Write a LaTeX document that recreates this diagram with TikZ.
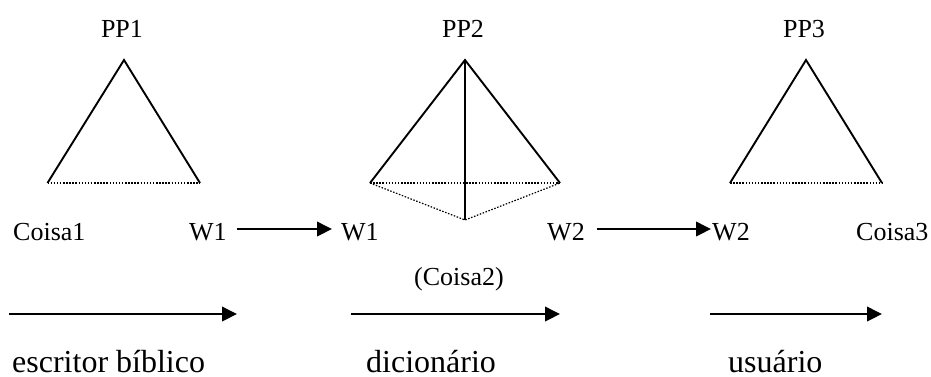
\documentclass[tikz,border=0pt]{standalone}
\usepackage{fontspec}
\setmainfont{Liberation Serif}
\usetikzlibrary{arrows.meta}
\tikzset{
 lab/.style={inner sep=0pt,font=\fontsize{26pt}{29pt}\selectfont},
 biglab/.style={inner sep=0pt,font=\fontsize{32pt}{36pt}\selectfont},
 edge/.style={line width=1.9pt,draw=black},
 dot/.style={line width=1.2pt,draw=black,dash pattern=on 1.5pt off 1.6pt},
 arr/.style={line width=2pt,-{Triangle[length=15pt,width=14.5pt]}}
}
\begin{document}
\begin{tikzpicture}[x=1pt,y=-1pt]
\useasboundingbox (0,0) rectangle (931,376);
\coordinate (a1) at (124,60);
\coordinate (a2) at (47.5,183);
\coordinate (a3) at (200,183);
\draw[edge] (a2)--(a1)--(a3);
\draw[dot] (a2)--(a3);
\coordinate (b1) at (465,60);
\coordinate (b2) at (370,183);
\coordinate (b3) at (560,183);
\coordinate (b4) at (465,220);
\draw[edge] (b2)--(b1)--(b3);
\draw[edge] (b1)--(b4);
\draw[dot] (b2)--(b3);
\draw[dot] (b2)--(b4)--(b3);
\coordinate (c1) at (806,60);
\coordinate (c2) at (730,183);
\coordinate (c3) at (882,183);
\draw[edge] (c2)--(c1)--(c3);
\draw[dot] (c2)--(c3);
\node[lab,anchor=base] (pp1) at (122,37) {PP1};
\node[lab,anchor=base] (pp2) at (463,37) {PP2};
\node[lab,anchor=base] (pp3) at (804,37) {PP3};
\node[lab,anchor=base west] (c1t) at (13,240) {Coisa1};
\node[lab,anchor=base west] (w1a) at (189,240) {W1};
\node[lab,anchor=base west] (w1b) at (341,240) {W1};
\node[lab,anchor=base west] (w2a) at (547,240) {W2};
\node[lab,anchor=base west] (w2b) at (712,240) {W2};
\node[lab,anchor=base west] (c3t) at (856,240) {Coisa3};
\node[lab,anchor=base] (c2t) at (459,285) {(Coisa2)};
\coordinate (s1) at (237,229); \coordinate (e1) at (332,229);
\coordinate (s2) at (597,229); \coordinate (e2) at (711,229);
\coordinate (s3) at (9,314); \coordinate (e3) at (237,314);
\coordinate (s4) at (351,314); \coordinate (e4) at (560,314);
\coordinate (s5) at (710,314); \coordinate (e5) at (882,314);
\draw[arr] (s1)--(e1);
\draw[arr] (s2)--(e2);
\draw[arr] (s3)--(e3);
\draw[arr] (s4)--(e4);
\draw[arr] (s5)--(e5);
\node[biglab,anchor=base west] (t1) at (12,372) {escritor bíblico};
\node[biglab,anchor=base west] (t2) at (366,372) {dicionário};
\node[biglab,anchor=base west] (t3) at (728,372) {usuário};
\end{tikzpicture}
\end{document}
